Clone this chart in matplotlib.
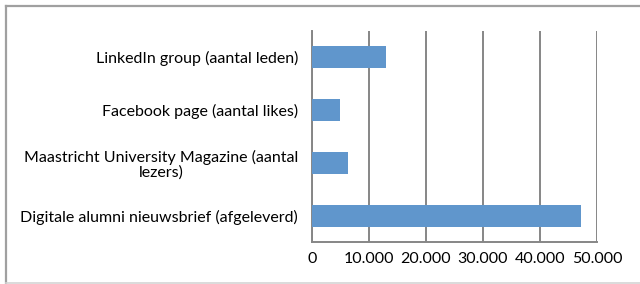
import matplotlib
matplotlib.use('Agg')
import matplotlib.pyplot as plt
from matplotlib.lines import Line2D
from matplotlib.ticker import FuncFormatter

plt.rcParams['font.family'] = ['Lato', 'DejaVu Sans']

categories = ['Digitale alumni nieuwsbrief (afgeleverd)',
              'Maastricht University Magazine (aantal\nlezers)',
              'Facebook page (aantal likes)',
              'LinkedIn group (aantal leden)']
values = [47200, 6300, 4900, 13000]
ticks = [0, 10000, 20000, 30000, 40000, 50000]

fig = plt.figure(figsize=(6.4, 2.84), dpi=100)
ax = fig.add_axes([312 / 640, 1 - 242 / 284, (597 - 312) / 640, (242 - 31) / 284])

ax.barh(range(len(values)), values, height=0.42, color='#6096cc', zorder=3)
ax.set_xlim(0, 50000)
ax.set_ylim(-0.5, 3.5)
ax.set_xticks(ticks)
ax.xaxis.set_major_formatter(FuncFormatter(lambda v, p: f'{int(v):,}'.replace(',', '.')))
ax.set_yticks(range(len(categories)))
ax.set_yticklabels(categories, fontsize=11.5, ha='right', multialignment='center',
                   linespacing=1.1)
ax.tick_params(axis='y', length=0, pad=10)
ax.tick_params(axis='x', length=0, labelsize=11.5, pad=7)
ax.grid(axis='x', color='#868686', linewidth=1.4, zorder=0)
for s in ['top', 'right']:
    ax.spines[s].set_visible(False)
for s in ['left', 'bottom']:
    ax.spines[s].set_color('#868686')
    ax.spines[s].set_linewidth(1.4)

# outer frame: left and top darker, bottom lighter, right outside the picture
W, H = 640, 284
fig.add_artist(Line2D([6 / W, 6 / W], [1 - 6 / H, 0], transform=fig.transFigure,
                      color='#a0a0a0', linewidth=1.6))
fig.add_artist(Line2D([6 / W, 1], [1 - 6 / H, 1 - 6 / H], transform=fig.transFigure,
                      color='#a0a0a0', linewidth=1.6))
fig.add_artist(Line2D([6 / W, 1], [1.5 / H, 1.5 / H], transform=fig.transFigure,
                      color='#d4d4d4', linewidth=1.2))

fig.savefig('out.png', dpi=100)
